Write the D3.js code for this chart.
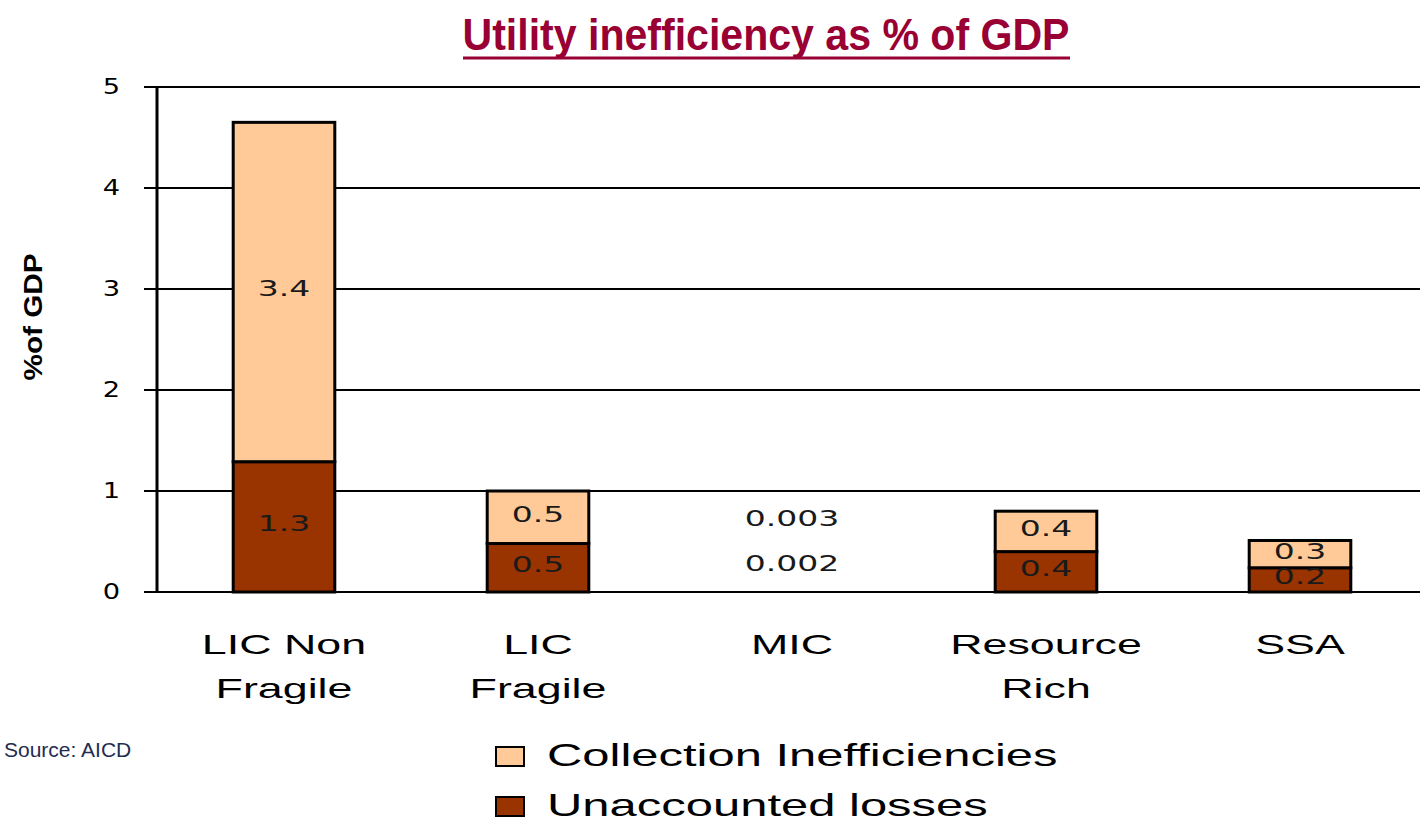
<!DOCTYPE html>
<html lang="en">
<head>
    <meta charset="UTF-8">
    <title>Utility inefficiency as % of GDP</title>
    <script src="https://d3js.org/d3.v7.min.js"></script>
    <style>
        body { margin: 0; background: #fff; }
        .grid line { stroke: #000; stroke-width: 2px; }
        .bar { stroke: #000; stroke-width: 3px; }
        .tick-label { font-family: "DejaVu Sans", sans-serif; font-size: 21px; fill: #000; }
        .bar-label { font-family: "DejaVu Sans", sans-serif; font-size: 22px; fill: #1a1a1a; text-anchor: middle; }
        .cat-label { font-family: "Liberation Sans", Arial, sans-serif; font-size: 28px; fill: #000; text-anchor: middle; }
        .legend text { font-family: "Liberation Sans", Arial, sans-serif; font-size: 32px; fill: #000; }
        .title { font-family: "Liberation Sans", Arial, sans-serif; font-weight: bold; font-size: 44px; fill: #990033; text-anchor: middle; }
        .ylabel { font-family: "Liberation Sans", Arial, sans-serif; font-weight: bold; font-size: 26px; fill: #000; text-anchor: middle; }
        .source { font-family: "Liberation Sans", Arial, sans-serif; font-size: 21px; fill: #1f2d52; }
    </style>
</head>
<body>
<script>
    const width = 1420;
    const height = 823;

    // data
    const categories = [["LIC Non", "Fragile"], ["LIC", "Fragile"], ["MIC"], ["Resource", "Rich"], ["SSA"]];
    const unaccounted = [1.29, 0.48, 0.002, 0.40, 0.24];
    const collection = [3.36, 0.52, 0.003, 0.40, 0.27];
    const unaccountedLabels = ["1.3", "0.5", "0.002", "0.4", "0.2"];
    const collectionLabels = ["3.4", "0.5", "0.003", "0.4", "0.3"];
    const yTicks = [0, 1, 2, 3, 4, 5];
    const seriesNames = ["Collection Inefficiencies", "Unaccounted losses"];
    const colors = { collection: "#ffca97", unaccounted: "#993300" };

    const x = d3.scaleBand()
        .domain(d3.range(categories.length))
        .range([157, 1427])
        .paddingInner(0.6)
        .paddingOuter(0.3);

    const y = d3.scaleLinear().domain([0, 5]).range([592, 87]);

    const svg = d3.select("body").append("svg").attr("width", width).attr("height", height);

    // title
    svg.append("text").attr("class", "title")
        .attr("x", 766).attr("y", 50)
        .attr("textLength", 607).attr("lengthAdjust", "spacingAndGlyphs")
        .text("Utility inefficiency as % of GDP");
    svg.append("line")
        .attr("x1", 463).attr("x2", 1070).attr("y1", 58).attr("y2", 58)
        .attr("stroke", "#990033").attr("stroke-width", 3);

    // gridlines
    svg.append("g").attr("class", "grid")
        .selectAll("line").data(yTicks).enter().append("line")
        .attr("x1", 144).attr("x2", width)
        .attr("y1", d => y(d)).attr("y2", d => y(d));

    // axis line
    svg.append("line")
        .attr("x1", 157).attr("x2", 157)
        .attr("y1", y(5)).attr("y2", y(0))
        .attr("stroke", "#000").attr("stroke-width", 3);

    svg.append("g").selectAll("text").data(yTicks).enter().append("text")
        .attr("class", "tick-label")
        .attr("transform", d => `translate(120,${y(d)}) scale(1.3,1)`)
        .attr("text-anchor", "end")
        .attr("dominant-baseline", "central")
        .text(d => d);

    svg.append("text").attr("class", "ylabel")
        .attr("transform", "translate(42,317) rotate(-90)")
        .attr("textLength", 127).attr("lengthAdjust", "spacingAndGlyphs")
        .text("%of GDP");

    // stacked bars
    const bars = svg.append("g");
    categories.forEach((c, i) => {
        const bx = x(i), bw = x.bandwidth();
        const top1 = y(unaccounted[i]);
        const top2 = y(unaccounted[i] + collection[i]);
        const thin = y(0) - top2 < 10;
        if (!thin) {
            bars.append("rect").attr("class", "bar")
                .attr("x", bx).attr("width", bw)
                .attr("y", top1).attr("height", y(0) - top1)
                .attr("fill", colors.unaccounted);
            bars.append("rect").attr("class", "bar")
                .attr("x", bx).attr("width", bw)
                .attr("y", top2).attr("height", top1 - top2)
                .attr("fill", colors.collection);
        }

        let yDark = (y(0) + top1) / 2 - 3;
        let yLight = (top1 + top2) / 2 - 3;
        if (thin) { // too thin to hold labels: stack them above
            yDark = y(0) - 28;
            yLight = y(0) - 73;
        }
        const cx = bx + bw / 2;
        bars.append("text").attr("class", "bar-label")
            .attr("transform", `translate(${cx},${yDark}) scale(1.5,1)`)
            .attr("dominant-baseline", "central")
            .text(unaccountedLabels[i]);
        bars.append("text").attr("class", "bar-label")
            .attr("transform", `translate(${cx},${yLight}) scale(1.5,1)`)
            .attr("dominant-baseline", "central")
            .text(collectionLabels[i]);

        c.forEach((line, j) => {
            svg.append("text").attr("class", "cat-label")
                .attr("transform", `translate(${cx},${654 + j * 44}) scale(1.6,1)`)
                .text(line);
        });
    });

    // legend
    const legend = svg.append("g").attr("class", "legend");
    const legendColors = [colors.collection, colors.unaccounted];
    seriesNames.forEach((name, i) => {
        const ly = 747 + i * 50;
        legend.append("rect")
            .attr("x", 496).attr("y", ly).attr("width", 28).attr("height", 19)
            .attr("fill", legendColors[i]).attr("stroke", "#000").attr("stroke-width", 2);
        legend.append("text")
            .attr("transform", `translate(547,${ly + 19}) scale(1.53,1)`)
            .text(name);
    });

    svg.append("text").attr("class", "source")
        .attr("x", 4).attr("y", 757)
        .text("Source: AICD");
</script>
</body>
</html>
